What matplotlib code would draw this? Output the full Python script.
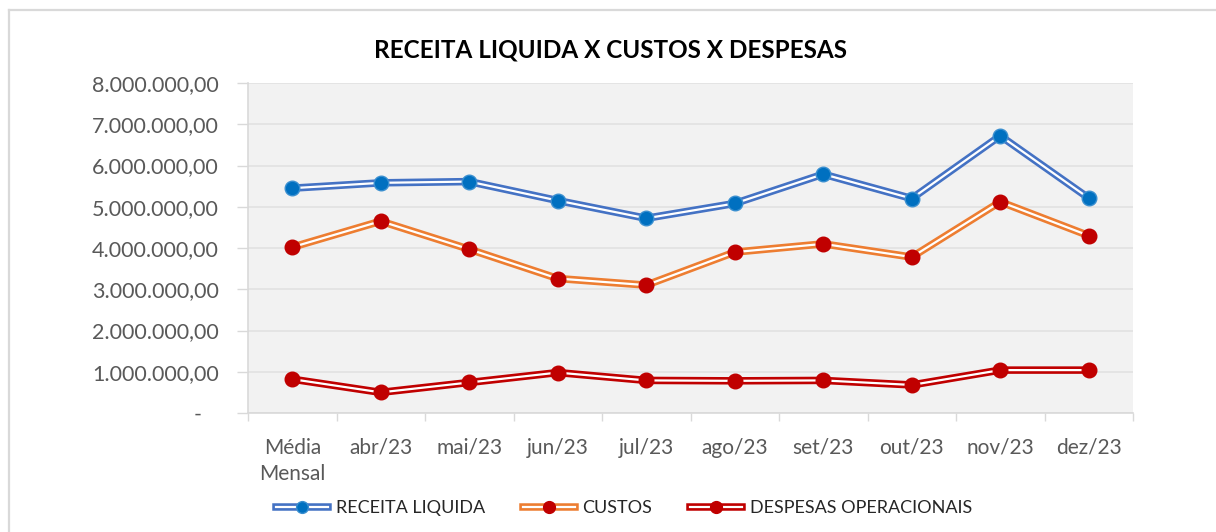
import matplotlib
matplotlib.use("Agg")
import matplotlib.pyplot as plt
from matplotlib.lines import Line2D
from matplotlib.ticker import FixedLocator, FuncFormatter
from matplotlib.legend_handler import HandlerTuple

plt.rcParams['font.family'] = ['Lato', 'DejaVu Sans']

categories = ["Média\nMensal", "abr/23", "mai/23", "jun/23", "jul/23",
              "ago/23", "set/23", "out/23", "nov/23", "dez/23"]
receita = [5450000, 5580000, 5610000, 5150000, 4720000,
           5080000, 5790000, 5200000, 6720000, 5210000]
custos = [4020000, 4650000, 3970000, 3260000, 3100000,
          3900000, 4100000, 3780000, 5120000, 4300000]
despesas = [820000, 500000, 740000, 980000, 790000,
            780000, 790000, 680000, 1040000, 1040000]
series_names = ["RECEITA LIQUIDA", "CUSTOS", "DESPESAS OPERACIONAIS"]
title = "RECEITA LIQUIDA X CUSTOS X DESPESAS"
yticks = [0, 1000000, 2000000, 3000000, 4000000, 5000000, 6000000, 7000000, 8000000]

line_colors = ["#4472C4", "#ED7D31", "#C00000"]
marker_colors = ["#0070C0", "#C00000", "#C00000"]
marker_edges = ["#3A8FD0", "#C00000", "#C00000"]

W, H = 1216, 532
fig = plt.figure(figsize=(W / 100, H / 100), dpi=100)
ax = fig.add_axes([248 / W, 1 - 413 / H, (1133 - 248) / W, (413 - 83) / H])
ax.set_facecolor("#F2F2F2")

x = list(range(len(categories)))
handles = []
for i, vals in enumerate([receita, custos, despesas]):
    ax.plot(x, vals, color=line_colors[i], lw=5.4, solid_joinstyle='miter',
            zorder=3 + i * 3)
    ax.plot(x, vals, color="white", lw=1.6, zorder=4 + i * 3)
    ax.plot(x, vals, ls='none', marker='o', ms=10.5, mfc=marker_colors[i],
            mec=marker_edges[i], mew=1.0, zorder=5 + i * 3)
    h = (Line2D([], [], color=line_colors[i], lw=5.4),
         Line2D([], [], color="white", lw=1.6),
         Line2D([], [], ls='none', marker='o', ms=8.5, mfc=marker_colors[i],
                mec=marker_edges[i], mew=1.0))
    handles.append(h)

ax.set_xlim(-0.5, len(categories) - 0.5)
ax.set_ylim(0, 8000000)
ax.yaxis.set_major_locator(FixedLocator(yticks))


def fmt(v, pos):
    if v == 0:
        return "-   "
    s = f"{int(round(v)):,}".replace(",", ".")
    return s + ",00"


ax.yaxis.set_major_formatter(FuncFormatter(fmt))
ax.grid(axis='y', color="#E3E3E3", lw=1.3, zorder=1)
ax.set_axisbelow(True)

ax.set_xticks(x)
ax.set_xticklabels(categories)
ax.set_xticks([i - 0.5 for i in range(len(categories) + 1)], minor=True)
ax.tick_params(axis='x', which='major', length=0, pad=18, labelsize=15,
               labelcolor="#595959")
ax.tick_params(axis='x', which='minor', length=6, width=1, color="#D9D9D9")
ax.tick_params(axis='y', which='major', length=8, width=1, color="#D9D9D9",
               pad=13, labelsize=15.5, labelcolor="#595959")
for lbl in ax.get_xticklabels():
    lbl.set_linespacing(1.4)

for s in ["top", "right"]:
    ax.spines[s].set_visible(False)
for s in ["left", "bottom"]:
    ax.spines[s].set_color("#D9D9D9")
    ax.spines[s].set_linewidth(1.2)

fig.text(610 / W, 1 - 50 / H, title, ha='center', va='center',
         fontsize=17.5, fontweight='bold', color="#000000")

leg = fig.legend(handles, series_names, loc='center',
                 bbox_to_anchor=(624 / W, 1 - 508 / H), ncol=3,
                 frameon=False, fontsize=13, handlelength=2.9,
                 handletextpad=0.4, columnspacing=2.1,
                 handler_map={tuple: HandlerTuple(ndivide=1)})
for t in leg.get_texts():
    t.set_color("#262626")

# outer chart border (left and top visible)
fig.add_artist(Line2D([8.5 / W, 8.5 / W], [0, 1 - 9.5 / H], color="#D9D9D9",
                      lw=1.6, transform=fig.transFigure))
fig.add_artist(Line2D([8.5 / W, 1], [1 - 9.5 / H, 1 - 9.5 / H], color="#D9D9D9",
                      lw=1.6, transform=fig.transFigure))

fig.savefig("out.png", dpi=100)
